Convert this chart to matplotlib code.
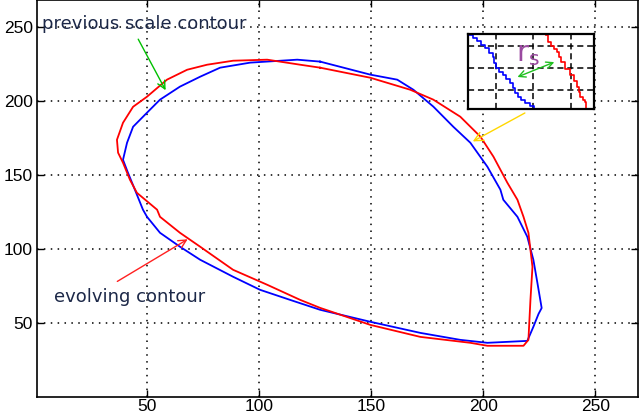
import matplotlib
matplotlib.use('Agg')
import matplotlib.pyplot as plt

# contour traces (image coordinates)
blue_x = [127.2, 117, 96, 82.6, 73.7, 64.7, 55.8, 50, 43.8, 41.1, 39.3, 41.5, 44.6, 48.2, 50, 55.8,
          64.7, 73.7, 88.4, 100.4, 113.8, 127.2, 149.6, 171.9, 189.7, 201.8, 219.6, 222.3, 224.6,
          226, 224.1, 222.3, 219.6, 215.2, 208.9, 207.6, 201.8, 194.2, 186.6, 177.7, 168.8, 161.6,
          149.6, 127.2]
blue_y = [226.4, 227.7, 225.7, 222.3, 216.2, 209.5, 200.7, 191.9, 182.4, 171.6, 160.1, 151.4, 139.9,
          126.4, 121.6, 110.8, 101.4, 92.6, 81.1, 72.3, 65.5, 58.8, 50.7, 43.2, 38.5, 36.5, 37.8, 47.3,
          56, 60, 77, 92.6, 108.1, 121.6, 133.1, 139.9, 155.4, 171.6, 182.4, 196, 207.4, 214.2,
          217.6, 226.4]
red_x = [127.2, 118.3, 103.6, 88.4, 76.8, 67.9, 58.9, 50, 43.8, 39.3, 36.6, 37.1, 39.3, 42.4, 45.5,
         54.5, 55.8, 64.7, 73.7, 88.4, 103.6, 118.3, 127.2, 149.6, 171.9, 194.2, 201.8, 217.9, 220.1,
         221, 221.9, 220.1, 217.9, 215.2, 210.7, 204.5, 198.7, 189.7, 177.7, 167.4, 149.6, 127.2]
red_y = [222.3, 224.3, 227.7, 227, 224.3, 220.9, 214.2, 202.7, 195.9, 185.1, 173.6, 164.9, 158.1, 146.6,
         137.8, 126.4, 121.6, 110.8, 101.4, 85.8, 75.7, 65.5, 60.1, 48.6, 40.5, 36.5, 34.5, 34.5, 38.5,
         65.5, 87.8, 110.8, 121.6, 133.1, 144.6, 162.2, 175.7, 189.2, 200.7, 207.4, 215.5, 222.3]

# zoomed detail in the inset (inset pixel coordinates)
inset_blue_x = [1, 5, 9, 13, 17, 21, 25, 26, 28, 31, 35, 38, 42, 45, 47, 50, 53, 57, 62, 66]
inset_blue_y = [1, 4, 7, 11, 14, 19, 23, 29, 34, 38, 41, 45, 49, 54, 59, 63, 66, 69, 72, 74]
inset_red_x = [78, 80, 83, 86, 89, 91, 93, 97, 102, 106, 109, 111, 112, 115, 117, 118]
inset_red_y = [1, 8, 12, 15, 18, 23, 28, 35, 41, 47, 53, 58, 63, 66, 68, 74]

ticks = [50, 100, 150, 200, 250]
inset_xgrid = [28, 65, 103]
inset_ygrid = [12, 34, 56]

fig = plt.figure(figsize=(6.4, 4.16), dpi=100)
ax = fig.add_axes([0.058, 0.046, 0.939, 0.954])

ax.plot(blue_x, blue_y, color='#0000ff', lw=1.3)
ax.plot(red_x, red_y, color='#ff0000', lw=1.3)

ax.set_xlim(1, 269)
ax.set_ylim(0, 268)
ax.set_xticks(ticks)
ax.set_yticks(ticks)
ax.grid(True, color='black', linestyle=(0, (1, 3.5)), linewidth=1.1)
ax.tick_params(direction='in', length=5, width=1, top=True, right=True, pad=3,
               labelsize=12.5)
ax.tick_params(axis='x', pad=1.5)
for lab in ax.get_xticklabels() + ax.get_yticklabels():
    lab.set_family('Liberation Sans')
for s in ax.spines.values():
    s.set_linewidth(1.2)

txt_color = '#1c2848'
ax.text(3, 252, 'previous scale contour', fontsize=13, color=txt_color, va='center', ha='left')
ax.text(8.5, 67.6, 'evolving contour', fontsize=13, color=txt_color, va='center', ha='left')

ax.annotate('', xy=(58.9, 205.4), xytext=(45.5, 243.2),
            arrowprops=dict(arrowstyle='->', color='#00c000', lw=1.0, mutation_scale=14))
ax.annotate('', xy=(69.2, 107.4), xytext=(35.7, 77),
            arrowprops=dict(arrowstyle='->', color='#ff2020', lw=1.0, mutation_scale=14))
ax.annotate('', xy=(194.2, 171.6), xytext=(219.6, 192.6),
            arrowprops=dict(arrowstyle='->', color='#ffd700', lw=1.0, mutation_scale=16))

# inset
ins = fig.add_axes([0.731, 0.738, 0.197, 0.180])
ins.plot(inset_blue_x, inset_blue_y, color='#0000ff', lw=1.2, drawstyle='steps-post')
ins.plot(inset_red_x, inset_red_y, color='#ff0000', lw=1.2, drawstyle='steps-post')
ins.set_xlim(0, 126)
ins.set_ylim(75, 0)
ins.set_xticks(inset_xgrid)
ins.set_yticks(inset_ygrid)
ins.set_xticklabels([])
ins.set_yticklabels([])
ins.tick_params(length=0)
ins.grid(True, color='black', linestyle=(0, (4, 2.5)), linewidth=1.1)
for s in ins.spines.values():
    s.set_linewidth(1.6)
ins.text(60, 20, r'$\mathsf{r_s}$', fontsize=21, color='#9a4aa0', ha='center', va='center')
ins.annotate('', xy=(47, 44), xytext=(89, 27),
             arrowprops=dict(arrowstyle='<->', color='#20c020', lw=1.0, mutation_scale=12))

fig.savefig('out.png', dpi=100)
